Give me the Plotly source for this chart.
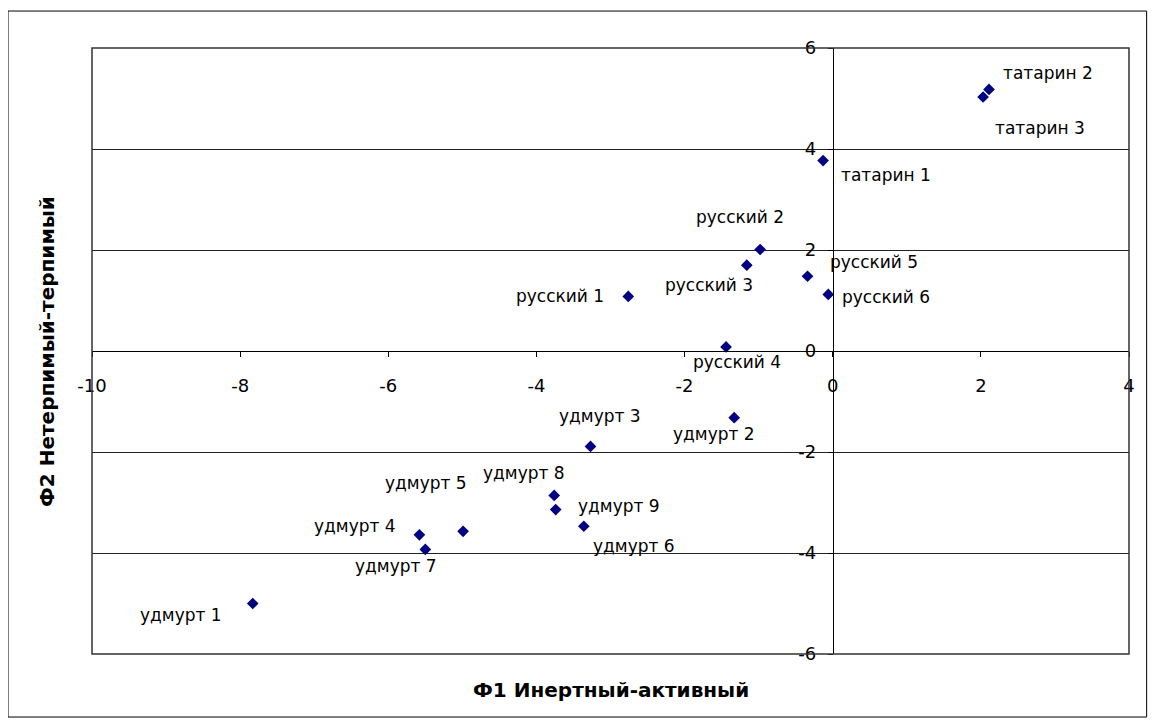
import plotly.graph_objects as go

# ---- data ----
labels = ["татарин 1", "татарин 2", "татарин 3",
          "русский 1", "русский 2", "русский 3", "русский 4", "русский 5", "русский 6",
          "удмурт 1", "удмурт 2", "удмурт 3", "удмурт 4", "удмурт 5", "удмурт 6",
          "удмурт 7", "удмурт 8", "удмурт 9"]
f1_values = [-0.13, 2.11, 2.03,
             -2.76, -0.98, -1.16, -1.44, -0.34, -0.06,
             -7.83, -1.33, -3.27, -5.58, -4.99, -3.36,
             -5.50, -3.76, -3.74]
f2_values = [3.77, 5.18, 5.03,
             1.08, 2.01, 1.70, 0.08, 1.48, 1.12,
             -5.00, -1.32, -1.89, -3.64, -3.57, -3.47,
             -3.93, -2.86, -3.14]
x_ticks = [-10, -8, -6, -4, -2, 0, 2, 4]
y_ticks = [-6, -4, -2, 0, 2, 4, 6]
x_title = "Ф1 Инертный-активный"
y_title = "Ф2 Нетерпимый-терпимый"

# ---- label placement (pixel offsets, style only) ----
label_style = {
    "татарин 1": ("left", 16, -14),
    "татарин 2": ("left", 12, 16),
    "татарин 3": ("left", 10, -31),
    "русский 1": ("right", -22, 0),
    "русский 2": ("center", -20, 33),
    "русский 3": ("center", -38, -20),
    "русский 4": ("center", 11, -15),
    "русский 5": ("left", 20, 14),
    "русский 6": ("left", 12, -3),
    "удмурт 1": ("right", -29, -11),
    "удмурт 2": ("center", -20, -16),
    "удмурт 3": ("center", 9, 30),
    "удмурт 4": ("right", -21, 9),
    "удмурт 5": ("center", -37, 48),
    "удмурт 6": ("left", 7, -20),
    "удмурт 7": ("center", -29, -17),
    "удмурт 8": ("center", -30, 22),
    "удмурт 9": ("left", 20, 4),
}

FONT = "DejaVu Sans"
fig = go.Figure()
fig.add_trace(go.Scatter(
    x=f1_values, y=f2_values, mode="markers",
    marker=dict(symbol="diamond", size=9, color="#000080", line=dict(width=0)),
    hoverinfo="skip", showlegend=False,
))

annotations = []
for lab, xv, yv in zip(labels, f1_values, f2_values):
    anc, dx, dy = label_style[lab]
    annotations.append(dict(
        x=xv, y=yv, xref="x", yref="y", text=lab, showarrow=False,
        xanchor=anc, yanchor="middle", xshift=dx, yshift=dy,
        font=dict(family=FONT, size=17, color="black"),
    ))

annotations.append(dict(
    x=0.5, y=-0.059, xref="paper", yref="paper", text="<b>" + x_title + "</b>",
    showarrow=False, xanchor="center", yanchor="middle",
    font=dict(family=FONT, size=20, color="black"),
))
annotations.append(dict(
    x=-0.0434, y=0.5, xref="paper", yref="paper", text="<b>" + y_title + "</b>",
    showarrow=False, xanchor="center", yanchor="middle", textangle=-90,
    font=dict(family=FONT, size=20, color="black"),
))

x_range = [x_ticks[0], x_ticks[-1]]
y_range = [y_ticks[0], y_ticks[-1]]
x_zero_pos = (0 - y_range[0]) / (y_range[1] - y_range[0])
y_zero_pos = (0 - x_range[0]) / (x_range[1] - x_range[0])

fig.update_layout(
    width=1140, height=710,
    margin=dict(l=84, r=19, t=40, b=64),
    paper_bgcolor="white", plot_bgcolor="white",
    annotations=annotations,
    showlegend=False,
    xaxis=dict(
        range=x_range, tickvals=x_ticks, ticktext=[str(v) for v in x_ticks],
        anchor="free", position=x_zero_pos,
        showline=True, linecolor="black", linewidth=1,
        ticks="outside", ticklen=5, tickcolor="black",
        showgrid=False, zeroline=False,
        tickfont=dict(family=FONT, size=18, color="black"),
        ticklabelstandoff=13,
    ),
    yaxis=dict(
        range=y_range, tickvals=y_ticks, ticktext=[str(v) for v in y_ticks],
        anchor="free", position=y_zero_pos,
        showline=True, linecolor="black", linewidth=1,
        ticks="outside", ticklen=5, tickcolor="black",
        showgrid=True, gridcolor="#222222", gridwidth=1,
        zeroline=False,
        tickfont=dict(family=FONT, size=18, color="black"),
        ticklabelstandoff=8,
    ),
    shapes=[
        dict(type="rect", xref="paper", yref="paper", x0=0, x1=1, y0=0, y1=1,
             line=dict(color="#333333", width=1.5), layer="above"),
        dict(type="rect", xref="paper", yref="paper",
             x0=-0.081, x1=1.017, y0=-0.104, y1=1.061,
             line=dict(color="black", width=1)),
    ],
)

fig.write_html("out.html")
